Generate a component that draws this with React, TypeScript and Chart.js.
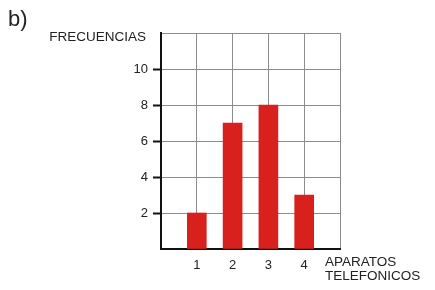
import React, { useEffect, useRef } from "react";
import { Chart, registerables } from "chart.js";

Chart.register(...registerables);

const categories = [1, 2, 3, 4];
const frequencies = [2, 7, 8, 3];
const yTicks = [2, 4, 6, 8, 10];
const xTicks = [1, 2, 3, 4];
const panelLabel = "b)";
const yTitle = "FRECUENCIAS";
const xTitleLines = ["APARATOS", "TELEFONICOS"];

const FONT = '"Liberation Sans", Arial, sans-serif';

const textPlugin = {
  id: "textPlugin",
  afterDraw(chart: any) {
    const { ctx, chartArea } = chart;
    ctx.save();
    ctx.fillStyle = "#222";
    ctx.textBaseline = "alphabetic";
    ctx.font = `22px ${FONT}`;
    ctx.textAlign = "left";
    ctx.fillText(panelLabel, 8, 26);
    ctx.font = `13.5px ${FONT}`;
    ctx.textAlign = "right";
    ctx.fillText(yTitle, chartArea.left - 15, chartArea.top + 8);
    ctx.textAlign = "left";
    ctx.fillText(xTitleLines[0], chartArea.right - 15, chartArea.bottom + 17);
    ctx.fillText(xTitleLines[1], chartArea.right - 15, chartArea.bottom + 31);
    ctx.restore();
  },
};

export default function App() {
  const ref = useRef<HTMLCanvasElement>(null);
  useEffect(() => {
    if (!ref.current) return;
    const chart = new Chart(ref.current, {
      type: "bar",
      data: {
        datasets: [
          {
            data: categories.map((c, i) => ({ x: c, y: frequencies[i] })),
            backgroundColor: "#d8211d",
            borderWidth: 0,
            barThickness: 19,
          },
        ],
      },
      options: {
        animation: false,
        responsive: false,
        maintainAspectRatio: false,
        layout: { padding: { left: 0, top: 33, right: 95, bottom: 0 } },
        plugins: {
          legend: { display: false },
          tooltip: { enabled: false },
        },
        scales: {
          x: {
            type: "linear",
            min: 0,
            max: 5,
            offset: false,
            afterFit: (s: any) => {
              s.height = 41;
            },
            ticks: {
              stepSize: 1,
              padding: 9,
              color: "#222",
              font: { family: FONT, size: 13 },
              callback: (v: any) => (xTicks.includes(v) ? String(v) : ""),
            },
            grid: { color: "#8c8c8c", lineWidth: 1, drawTicks: false, offset: false },
            border: { color: "#111", width: 2 },
          },
          y: {
            min: 0,
            max: 12,
            afterFit: (s: any) => {
              s.width = 161;
            },
            ticks: {
              stepSize: 2,
              padding: 5,
              color: "#222",
              font: { family: FONT, size: 13 },
              callback: (v: any) => (yTicks.includes(v) ? String(v) : ""),
            },
            grid: {
              color: "#8c8c8c",
              lineWidth: 1,
              tickLength: 8,
              tickColor: (c: any) =>
                c.tick && yTicks.includes(c.tick.value) ? "#111" : "rgba(0,0,0,0)",
              tickWidth: 2,
            },
            border: { color: "#111", width: 2 },
          },
        },
      },
      plugins: [textPlugin],
    });
    return () => chart.destroy();
  }, []);
  return (
    <div style={{ position: "absolute", left: 0, top: 0, width: 435, height: 290, background: "#fff" }}>
      <canvas ref={ref} width={435} height={290} />
    </div>
  );
}
